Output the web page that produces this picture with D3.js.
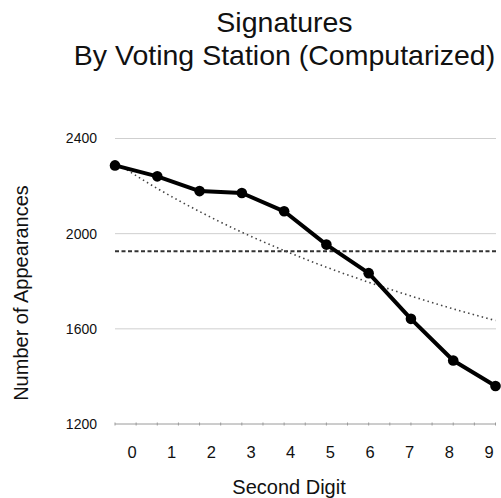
<!DOCTYPE html>
<html>
<head>
<meta charset="utf-8">
<script src="https://cdn.jsdelivr.net/npm/d3@7"></script>
<style>
  html, body { margin: 0; padding: 0; background: #fff; }
  svg { display: block; }
  text { font-family: "Liberation Sans", Arial, Helvetica, sans-serif; fill: #111; }
</style>
</head>
<body>
<svg id="chart" width="501" height="498"></svg>
<script>
// ---- data ----
const digits = ["0", "1", "2", "3", "4", "5", "6", "7", "8", "9"];
const observed = [2287, 2241, 2179, 2171, 2094, 1954, 1834, 1642, 1467, 1360];
const benfordExpected = [2300, 2190, 2093, 2006, 1929, 1859, 1796, 1738, 1684, 1635];
const uniformExpected = [1926];
const yTicks = [1200, 1600, 2000, 2400];
const titleLines = ["Signatures", "By Voting Station (Computarized)"];
const xTitle = "Second Digit";
const yTitle = "Number of Appearances";

// ---- layout ----
const svg = d3.select("#chart");
const plotLeft = 115, plotRight = 496;

const x = d3.scalePoint().domain(digits).range([115, 495.5]);
const xLabel = d3.scalePoint().domain(digits).range([132, 489]);
const xMinor = d3.scaleLinear().domain([0, 9]).range([115, 495.5]);
const y = d3.scaleLinear().domain([1200, 2400]).range([424, 138.5]);

// title
svg.append("g").selectAll("text").data(titleLines).join("text")
  .attr("x", 284.5)
  .attr("y", (d, i) => 32 + i * 33)
  .attr("text-anchor", "middle")
  .style("font-size", "28.5px")
  .text(d => d);

// gridlines
svg.append("g").selectAll("line").data(yTicks.filter(t => t !== 1200)).join("line")
  .attr("x1", plotLeft).attr("x2", plotRight)
  .attr("y1", d => y(d)).attr("y2", d => y(d))
  .attr("stroke", "#cfcfcf").attr("stroke-width", 1);

// y tick labels
svg.append("g").selectAll("text").data(yTicks).join("text")
  .attr("x", 97)
  .attr("y", d => y(d))
  .attr("dy", "0.35em")
  .attr("text-anchor", "end")
  .style("font-size", "14px")
  .text(d => d);

// x axis line + minor ticks
svg.append("line")
  .attr("x1", plotLeft).attr("x2", plotRight)
  .attr("y1", y(1200)).attr("y2", y(1200))
  .attr("stroke", "#9a9a9a").attr("stroke-width", 1);
svg.append("g").selectAll("line").data(d3.range(0, 9.01, 0.5)).join("line")
  .attr("x1", d => xMinor(d)).attr("x2", d => xMinor(d))
  .attr("y1", y(1200) - 1.5).attr("y2", y(1200) + 1.5)
  .attr("stroke", "#9a9a9a").attr("stroke-width", 1);

// x tick labels
svg.append("g").selectAll("text").data(digits).join("text")
  .attr("x", d => xLabel(d))
  .attr("y", 457.5)
  .attr("text-anchor", "middle")
  .style("font-size", "16.5px")
  .text(d => d);

// axis titles
svg.append("text")
  .attr("x", 289).attr("y", 494)
  .attr("text-anchor", "middle")
  .style("font-size", "20px")
  .text(xTitle);
svg.append("text")
  .attr("transform", "translate(28,293) rotate(-90)")
  .attr("text-anchor", "middle")
  .style("font-size", "20px")
  .text(yTitle);

// uniform expectation (dashed)
svg.append("g").selectAll("line").data(uniformExpected).join("line")
  .attr("x1", plotLeft).attr("x2", plotRight)
  .attr("y1", d => y(d)).attr("y2", d => y(d))
  .attr("stroke", "#333").attr("stroke-width", 2)
  .attr("stroke-dasharray", "4,2.5");

// Benford expectation (dotted curve)
const benLine = d3.line()
  .x((d, i) => x(digits[i]))
  .y(d => y(d))
  .curve(d3.curveMonotoneX);
svg.append("path")
  .datum(benfordExpected)
  .attr("d", benLine)
  .attr("fill", "none")
  .attr("stroke", "#444")
  .attr("stroke-width", 1.6)
  .attr("stroke-dasharray", "1.5,3.2");

// observed line
const obsLine = d3.line()
  .x((d, i) => x(digits[i]))
  .y(d => y(d));
svg.append("path")
  .datum(observed)
  .attr("d", obsLine)
  .attr("fill", "none")
  .attr("stroke", "#000")
  .attr("stroke-width", 4)
  .attr("stroke-linejoin", "round");

svg.append("g").selectAll("circle").data(observed).join("circle")
  .attr("cx", (d, i) => x(digits[i]))
  .attr("cy", d => y(d))
  .attr("r", 5.3)
  .attr("fill", "#000");
</script>
</body>
</html>
